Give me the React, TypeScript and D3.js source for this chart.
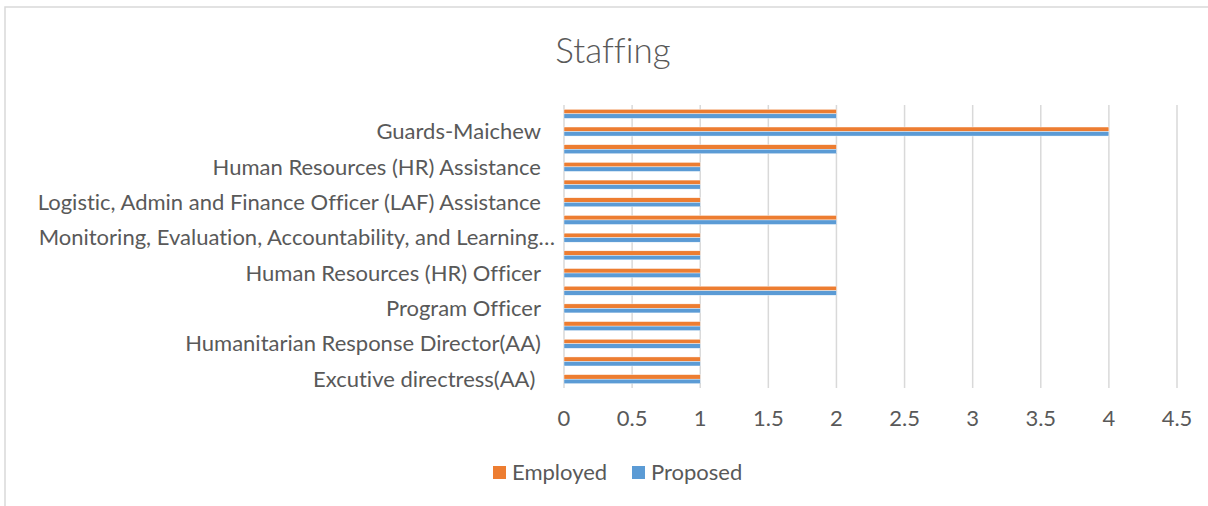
import React from "react";
import * as d3 from "d3";

// Categories listed bottom → top (as in the source spreadsheet)
const categories: string[] = [
  "Excutive directress(AA) ",
  "Executive Assistant(AA)",
  "Humanitarian Response Director(AA)",
  "Program Manager",
  "Program Officer",
  "Project Coordinator",
  "Human Resources (HR) Officer",
  "Finance Officer",
  "Monitoring, Evaluation, Accountability, and Learning (MEAL) Officer",
  "Logistic Officer",
  "Logistic, Admin and Finance Officer (LAF) Assistance",
  "Cashier",
  "Human Resources (HR) Assistance",
  "Drivers",
  "Guards-Maichew",
  "Cleaners",
];

const employed: number[] = [1, 1, 1, 1, 1, 2, 1, 1, 1, 2, 1, 1, 1, 2, 4, 2];
const proposed: number[] = [1, 1, 1, 1, 1, 2, 1, 1, 1, 2, 1, 1, 1, 2, 4, 2];

const seriesNames: string[] = ["Employed", "Proposed"];
const xTicks: number[] = [0, 0.5, 1, 1.5, 2, 2.5, 3, 3.5, 4, 4.5];
const title = "Staffing";

const COLORS: Record<string, string> = { Employed: "#ED7D31", Proposed: "#5B9BD5" };
const FONT = "Lato, 'Open Sans', sans-serif";
const TEXT = "#595959";

function shorten(s: string, max: number) {
  return s.length > max ? s.slice(0, max).trimEnd() + "…" : s;
}

export default function App() {
  const W = 1208;
  const H = 506;
  const x = d3.scaleLinear().domain([0, 4.5]).range([564, 1177]);
  const y = d3
    .scaleBand<string>()
    .domain([...categories].reverse())
    .range([105, 388])
    .paddingInner(0.49)
    .paddingOuter(0.245);
  const sub = d3.scaleBand<string>().domain(seriesNames).range([0, y.bandwidth()]);
  const values: Record<string, number[]> = { Employed: employed, Proposed: proposed };

  return (
    <svg
      width={W}
      height={H}
      style={{ position: "absolute", left: 0, top: 0, background: "#fff", fontVariantLigatures: "none" }}
      fontFamily={FONT}
    >
      <rect x={5} y={7} width={W} height={H} fill="#fff" stroke="#D9D9D9" strokeWidth={1.5} />
      <text
        x={613}
        y={63}
        textAnchor="middle"
        fontSize={35}
        fill={TEXT}
        fontWeight={300}
        style={{ fontVariantLigatures: "none" }}
      >
        {title}
      </text>
      {xTicks.map((t) => (
        <g key={t}>
          <line x1={x(t)} x2={x(t)} y1={105} y2={388} stroke="#D9D9D9" strokeWidth={1.5} />
          <text x={x(t)} y={426} textAnchor="middle" fontSize={22} fill={TEXT}>
            {t}
          </text>
        </g>
      ))}
      {categories.map((c, i) =>
        seriesNames.map((s) => (
          <rect
            key={c + s}
            x={x(0)}
            y={(y(c) as number) + (sub(s) as number)}
            width={x(values[s][i]) - x(0)}
            height={sub.bandwidth()}
            fill={COLORS[s]}
            stroke="#fff"
            strokeWidth={0.4}
          />
        ))
      )}
      {categories.map((c, i) => {
        if (i % 2 !== 0) return null;
        const label = shorten(c, 52);
        const truncated = label !== c;
        return (
          <text
            key={c}
            x={truncated ? 555 : 541}
            y={(y(c) as number) + y.bandwidth() / 2}
            dy="0.35em"
            textAnchor="end"
            fontSize={22}
            fill={TEXT}
            style={{ whiteSpace: "pre", fontVariantLigatures: "none" }}
          >
            {label}
          </text>
        );
      })}
      {seriesNames.map((s, i) => {
        const lx = [493, 632][i];
        return (
          <g key={s}>
            <rect x={lx} y={466} width={13} height={13} fill={COLORS[s]} />
            <text x={lx + 19} y={472} dy="0.35em" fontSize={22} fill={TEXT}>
              {s}
            </text>
          </g>
        );
      })}
    </svg>
  );
}
